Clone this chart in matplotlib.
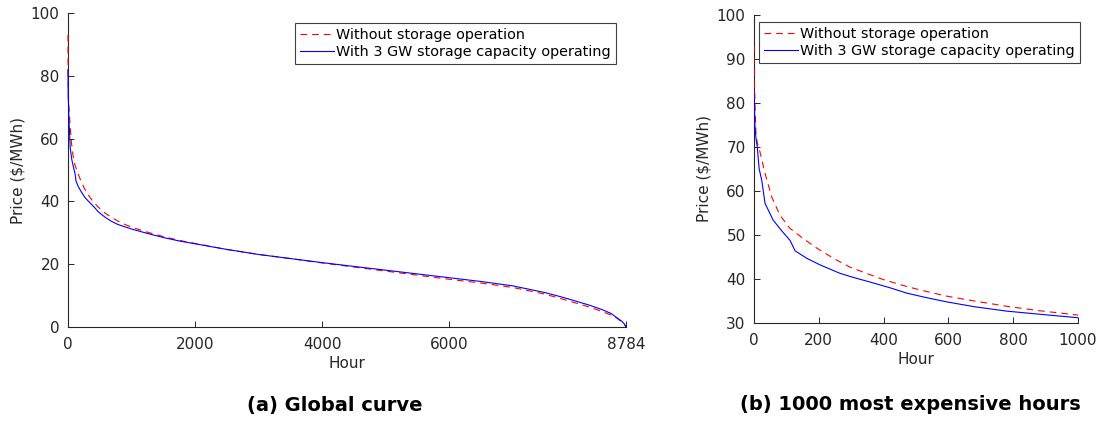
import matplotlib
matplotlib.use("Agg")
import matplotlib.pyplot as plt

# price duration curves (hour rank, $/MWh)
hours_no_storage = [0, 1, 3, 6, 10, 18, 34, 55, 80, 111, 150, 194, 250, 296, 350, 398,
                    471, 530, 595, 680, 780, 880, 1000, 1250, 1500, 1750, 2000, 2500,
                    3000, 3500, 4000, 4500, 5000, 5500, 6000, 6500, 7000, 7500, 7800,
                    8000, 8200, 8400, 8550, 8650, 8720, 8760, 8784]
price_no_storage = [93, 85, 80, 73, 71, 69, 64, 58.6, 54.5, 51.5, 49.3, 47, 44.5, 42.7,
                    41.2, 39.9, 38.3, 37.2, 36.1, 35, 33.8, 32.8, 31.8, 30.2, 28.8, 27.6,
                    26.6, 24.7, 23.1, 21.8, 20.4, 19.1, 17.8, 16.5, 15.2, 14, 12.6, 10.5,
                    8.8, 7.6, 6.4, 5.0, 3.8, 2.7, 1.5, 0.8, 0]

hours_storage = [0, 1, 3, 6, 10, 16, 24, 34, 59, 85, 111, 127, 163, 204, 265, 300, 368,
                 420, 471, 530, 595, 680, 780, 880, 1000, 1250, 1500, 1750, 2000, 2500,
                 3000, 3500, 4000, 4500, 5000, 5500, 6000, 6500, 7000, 7500, 7800, 8000,
                 8200, 8400, 8550, 8650, 8720, 8760, 8784]
price_storage = [82, 80, 74.4, 72, 70, 65, 62.4, 57.2, 53.4, 51, 48.8, 46.4, 44.7, 43.2,
                 41.3, 40.5, 39.1, 38, 36.8, 35.8, 34.8, 33.7, 32.7, 32, 31.2, 29.8, 28.5,
                 27.4, 26.5, 24.7, 23.1, 21.8, 20.5, 19.3, 18.1, 16.9, 15.7, 14.5, 13.1,
                 11.0, 9.4, 8.2, 7.0, 5.6, 4.3, 2.8, 1.8, 0.9, 0]

label_a = "Without storage operation"
label_b = "With 3 GW storage capacity operating"

plt.rcParams["font.family"] = ["DejaVu Sans"]
plt.rcParams["font.size"] = 11
dark = "#262626"

fig = plt.figure(figsize=(11.04, 4.28), dpi=100)
# axes placed to the pixel boxes of the reference
ax1 = fig.add_axes([68 / 1104, 101 / 428, 558 / 1104, 314 / 428])
ax2 = fig.add_axes([754 / 1104, 105 / 428, 324 / 1104, 308 / 428])


def style(ax):
    for s in ["top", "right"]:
        ax.spines[s].set_visible(False)
    for s in ["left", "bottom"]:
        ax.spines[s].set_color(dark)
        ax.spines[s].set_linewidth(0.8)
    ax.tick_params(direction="in", length=4, width=0.7, colors=dark, labelsize=11)
    ax.tick_params(axis="x", pad=7)
    ax.tick_params(axis="y", pad=6)
    ax.set_xlabel("Hour", color=dark, fontsize=11, labelpad=3)
    ax.set_ylabel(r"Price (\$/MWh)", color=dark, fontsize=11, labelpad=4)


for ax, clip in ((ax1, False), (ax2, True)):
    ax.plot(hours_no_storage, price_no_storage, color="#ff0000", lw=0.8,
            linestyle=(0, (6, 4.5)), label=label_a, zorder=3, clip_on=clip)
    ax.plot(hours_storage, price_storage, color="#0000ff", lw=0.8, label=label_b,
            zorder=3, clip_on=clip)
    style(ax)

ax1.set_xlim(0, 8784)
ax1.set_ylim(0, 100)
ax1.set_xticks([0, 2000, 4000, 6000, 8784])
ax1.set_yticks([0, 20, 40, 60, 80, 100])

ax2.set_xlim(0, 1000)
ax2.set_ylim(30, 100)
ax2.set_xticks([0, 200, 400, 600, 800, 1000])
ax2.set_yticks([30, 40, 50, 60, 70, 80, 90, 100])

leg_kw = dict(loc="upper right", borderaxespad=0, fancybox=False, framealpha=1,
              edgecolor="#404040", handlelength=2.35, handletextpad=0.15,
              labelspacing=0.2, borderpad=0.35, fontsize=10.4)
leg1 = ax1.legend(bbox_to_anchor=(0.982, 0.968), **leg_kw)
leg2 = ax2.legend(bbox_to_anchor=(1.006, 0.978), **leg_kw)
for leg in (leg1, leg2):
    leg.get_frame().set_linewidth(0.8)
    leg.set_zorder(5)

fig.text(335 / 1104, 1 - 405 / 428, "(a) Global curve", ha="center", va="center",
         fontsize=14, fontweight="bold")
fig.text(910 / 1104, 1 - 405 / 428, "(b) 1000 most expensive hours", ha="center",
         va="center", fontsize=14, fontweight="bold")

fig.savefig("out.png", dpi=100)
